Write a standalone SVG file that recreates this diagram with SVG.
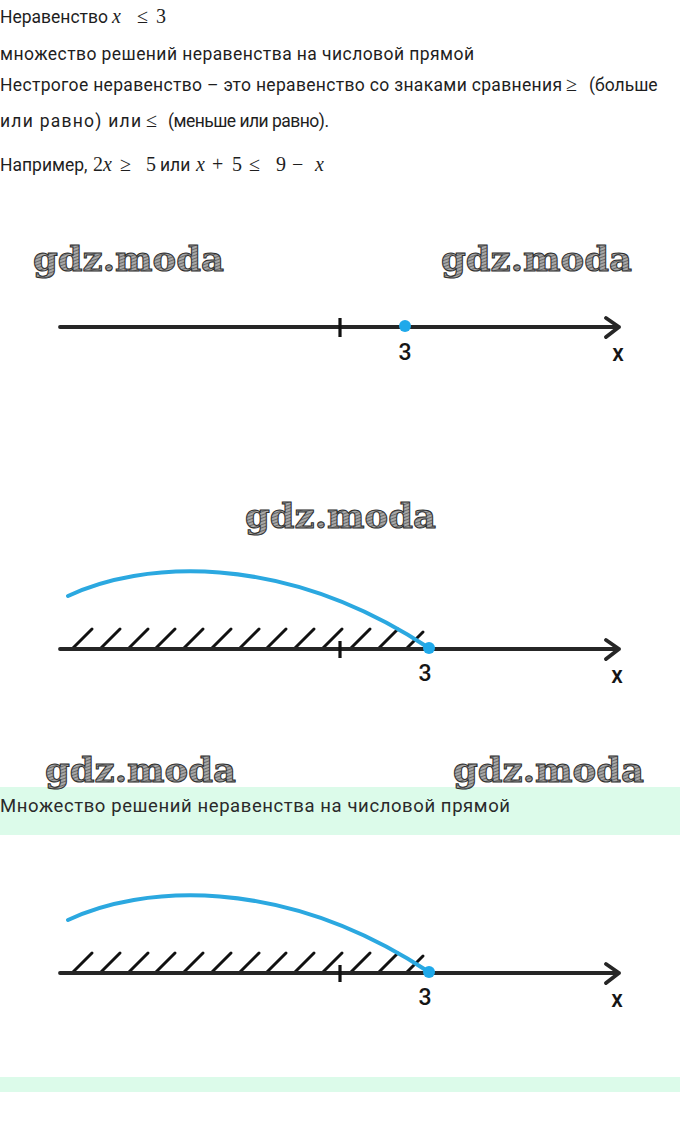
<svg xmlns="http://www.w3.org/2000/svg" width="680" height="1127" viewBox="0 0 680 1127">
<style>
.t{font-family:Roboto,"Liberation Sans",sans-serif;font-size:17.5px;fill:#1e1e1e}
.m{font-family:"Liberation Serif",serif;font-size:20px;fill:#1e1e1e}
.mi{font-family:"Liberation Serif",serif;font-size:20px;font-style:italic;fill:#1e1e1e}
.wm{font-family:"DejaVu Serif",serif;font-weight:bold;font-size:34px;fill:url(#hatch);stroke:#2e2e2e;stroke-width:1}
.axis{stroke:#262626;stroke-width:3.8;fill:none;stroke-linecap:round;stroke-linejoin:round}
.tick{stroke:#111;stroke-width:3.2}
.h{stroke:#111;stroke-width:3;stroke-linecap:round}
.arc{stroke:#2ba8e0;stroke-width:4;fill:none;stroke-linecap:round}
.dot{fill:#1fa9ea}
.lbl{font-family:Roboto,"Liberation Sans",Arial,sans-serif;font-weight:500;font-size:23px;fill:#151515;text-anchor:middle}
.band{fill:#dcfbea}
</style>
<defs>
<pattern id="hatch" patternUnits="userSpaceOnUse" width="3" height="3" patternTransform="rotate(70)">
<rect width="3" height="3" fill="#a8a8a8"/>
<line x1="0" y1="0" x2="0" y2="3" stroke="#3c3c3c" stroke-width="1.2"/>
</pattern>
<g id="hatches">
<line class="h" x1="73" y1="0" x2="92" y2="-19"/>
<line class="h" x1="101" y1="0" x2="120" y2="-19"/>
<line class="h" x1="129" y1="0" x2="148" y2="-19"/>
<line class="h" x1="156" y1="0" x2="175" y2="-19"/>
<line class="h" x1="184" y1="0" x2="203" y2="-19"/>
<line class="h" x1="212" y1="0" x2="231" y2="-19"/>
<line class="h" x1="240" y1="0" x2="259" y2="-19"/>
<line class="h" x1="267" y1="0" x2="286" y2="-19"/>
<line class="h" x1="295" y1="0" x2="314" y2="-19"/>
<line class="h" x1="323" y1="0" x2="342" y2="-19"/>
<line class="h" x1="351" y1="0" x2="370" y2="-19"/>
<line class="h" x1="379" y1="0" x2="398" y2="-19"/>
<line class="h" x1="407" y1="0" x2="423" y2="-16"/>
</g>
</defs>
<rect width="680" height="1127" fill="#ffffff"/>

<g id="text-top">
<text class="t" x="0" y="23" textLength="108">Неравенство</text>
<text class="mi" x="112" y="23">x</text>
<text class="m" x="137" y="23">≤</text>
<text class="m" x="156" y="23">3</text>
<text class="t" x="0" y="60" textLength="474">множество решений неравенства на числовой прямой</text>
<text class="t" x="0" y="91" textLength="562">Нестрогое неравенство – это неравенство со знаками сравнения</text>
<text class="m" x="566" y="91">≥</text>
<text class="t" x="589" y="91">(больше</text>
<text class="t" x="0" y="127" textLength="141">или равно) или</text>
<text class="m" x="146" y="127">≤</text>
<text class="t" x="168" y="127" textLength="161">(меньше или равно).</text>
<text class="t" x="0" y="171">Например,</text>
<text class="m" x="93" y="171">2<tspan font-style="italic">x</tspan></text>
<text class="m" x="120" y="171">≥</text>
<text class="m" x="146" y="171">5</text>
<text class="t" x="160" y="171">или</text>
<text class="mi" x="196" y="171">x</text>
<text class="m" x="212" y="171">+</text>
<text class="m" x="232" y="171">5</text>
<text class="m" x="249" y="171">≤</text>
<text class="m" x="276" y="171">9</text>
<text class="m" x="292" y="171">−</text>
<text class="mi" x="315" y="171">x</text>
</g>

<g id="watermarks">
<text class="wm" x="33" y="271" textLength="191" lengthAdjust="spacingAndGlyphs">gdz.moda</text>
<text class="wm" x="441" y="271" textLength="191" lengthAdjust="spacingAndGlyphs">gdz.moda</text>
<text class="wm" x="245" y="528" textLength="191" lengthAdjust="spacingAndGlyphs">gdz.moda</text>
</g>

<g id="numberline-1">
<path class="axis" d="M60,327 H619 M606,318 L619,327 L606,337"/>
<line class="tick" x1="340" y1="318" x2="340" y2="337"/>
<circle class="dot" cx="405" cy="326" r="6"/>
<text class="lbl" x="405" y="360">3</text>
<text class="lbl" x="618" y="361">x</text>
</g>

<g id="numberline-2">
<use href="#hatches" transform="translate(0,648)"/>
<path class="axis" d="M60,649 H619 M606,640 L619,649 L606,659"/>
<line class="tick" x1="340" y1="641" x2="340" y2="658"/>
<path class="arc" d="M68,596 C140,562 280,550 429,648"/>
<circle class="dot" cx="429" cy="648" r="6"/>
<text class="lbl" x="425" y="681">3</text>
<text class="lbl" x="617" y="683">x</text>
</g>

<g id="answer-band">
<rect class="band" x="0" y="787" width="680" height="48"/>
<text class="t" x="0" y="812" textLength="510" style="font-size:18.5px;fill:#2a2a2a">Множество решений неравенства на числовой прямой</text>
</g>

<g id="watermarks-2">
<text class="wm" x="45" y="782" textLength="191" lengthAdjust="spacingAndGlyphs">gdz.moda</text>
<text class="wm" x="453" y="782" textLength="191" lengthAdjust="spacingAndGlyphs">gdz.moda</text>
</g>

<g id="numberline-3">
<use href="#hatches" transform="translate(0,972)"/>
<path class="axis" d="M60,973 H619 M606,964 L619,973 L606,983"/>
<line class="tick" x1="340" y1="965" x2="340" y2="982"/>
<path class="arc" d="M68,920 C140,886 280,874 429,972"/>
<circle class="dot" cx="429" cy="972" r="6"/>
<text class="lbl" x="425" y="1005">3</text>
<text class="lbl" x="617" y="1007">x</text>
</g>

<rect class="band" x="0" y="1077" width="680" height="15"/>
</svg>
